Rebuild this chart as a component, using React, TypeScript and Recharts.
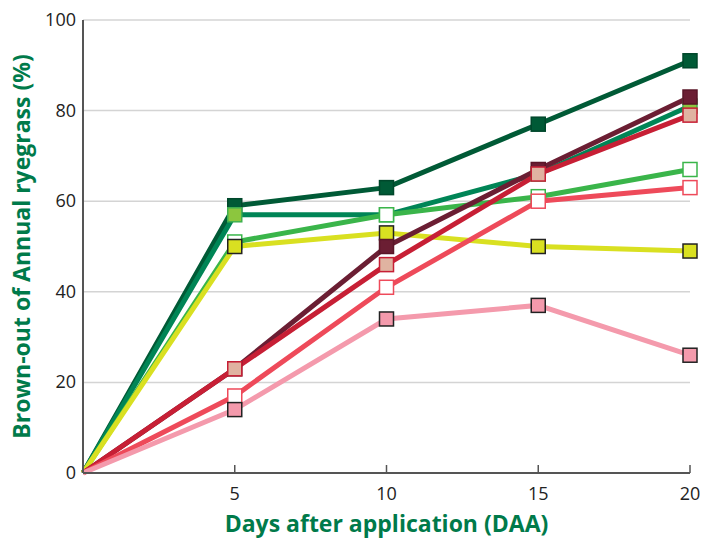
import { LineChart, Line, XAxis, YAxis, CartesianGrid, Label } from 'recharts';

const days = [0, 5, 10, 15, 20];
const darkGreen = [0, 59, 63, 77, 91];
const teal = [0, 57, 57, 66, 81];
const lightGreen = [0, 51, 57, 61, 67];
const yellow = [0, 50, 53, 50, 49];
const maroon = [0, 23, 50, 67, 83];
const crimson = [0, 23, 46, 66, 79];
const red = [0, 17, 41, 60, 63];
const pink = [0, 14, 34, 37, 26];
const xTicks = [5, 10, 15, 20];
const yTicks = [0, 20, 40, 60, 80, 100];

const data = days.map((d, i) => ({
  day: d,
  darkGreen: darkGreen[i],
  teal: teal[i],
  lightGreen: lightGreen[i],
  yellow: yellow[i],
  maroon: maroon[i],
  crimson: crimson[i],
  red: red[i],
  pink: pink[i],
}));

const series = [
  { key: 'darkGreen', stroke: '#005a36', fill: '#005a36', border: '#00472b' },
  { key: 'teal', stroke: '#008556', fill: '#8cc63e', border: '#3fb04f' },
  { key: 'lightGreen', stroke: '#3ab54a', fill: '#ffffff', border: '#3ab54a' },
  { key: 'yellow', stroke: '#d9e021', fill: '#d9e021', border: '#222222' },
  { key: 'maroon', stroke: '#6b1e33', fill: '#6b1e33', border: '#5a1628' },
  { key: 'crimson', stroke: '#c71f35', fill: '#e0b3a1', border: '#c71f35' },
  { key: 'red', stroke: '#ee4a5a', fill: '#ffffff', border: '#ee4a5a' },
  { key: 'pink', stroke: '#f49aac', fill: '#f49aac', border: '#222222' },
];

const FONT = '"Open Sans", "DejaVu Sans", sans-serif';

function squareDot(fill: string, border: string) {
  return (props: any) => {
    const { cx, cy, index } = props;
    if (index === 0 || cx == null || cy == null) return <g key={`d${index}`} />;
    return (
      <rect key={`d${index}`} x={cx - 7} y={cy - 7} width={14} height={14}
        fill={fill} stroke={border} strokeWidth={1.5} />
    );
  };
}

function XTick(props: any) {
  const { x, y, payload } = props;
  return (
    <g>
      <line x1={x} y1={y} x2={x} y2={y - 8} stroke="#555" strokeWidth={1.5} />
      <text x={x} y={y + 27} textAnchor="middle" fill="#222" fontSize={18} fontFamily={FONT}>
        {payload.value}
      </text>
    </g>
  );
}

function YTick(props: any) {
  const { x, y, payload } = props;
  return (
    <text x={x - 7} y={y + 6} textAnchor="end" fill="#222" fontSize={18} fontFamily={FONT}>
      {payload.value}
    </text>
  );
}

export default function App() {
  return (
    <div style={{ position: 'absolute', left: 0, top: 0, width: 713, height: 542, background: '#fff' }}>
      <LineChart width={713} height={542} data={data} margin={{ top: 20, right: 23, bottom: 0, left: 0 }}>
        <CartesianGrid vertical={false} stroke="#d4d4d4" strokeWidth={1.5} />
        <XAxis dataKey="day" type="number" domain={[0, 20]} ticks={xTicks} height={69}
          tickSize={0} tickMargin={0}
          axisLine={{ stroke: '#555', strokeWidth: 2 }} tickLine={false} tick={<XTick />}>
          <Label value="Days after application (DAA)" position="insideBottom" offset={10}
            fill="#007a4a" fontSize={23} fontWeight="bold" fontFamily={FONT} />
        </XAxis>
        <YAxis domain={[0, 100]} ticks={yTicks} width={83}
          tickSize={0} tickMargin={0}
          axisLine={{ stroke: '#555', strokeWidth: 2 }} tickLine={false} tick={<YTick />}>
          <Label value="Brown-out of Annual ryegrass (%)" angle={-90} position="insideLeft"
            offset={22} style={{ textAnchor: 'middle' }}
            fill="#007a4a" fontSize={23} fontWeight="bold" fontFamily={FONT} />
        </YAxis>
        {series.map((s) => (
          <Line key={s.key} dataKey={s.key} stroke={s.stroke} strokeWidth={5}
            type="linear" isAnimationActive={false}
            dot={squareDot(s.fill, s.border)} activeDot={false} />
        ))}
      </LineChart>
    </div>
  );
}
